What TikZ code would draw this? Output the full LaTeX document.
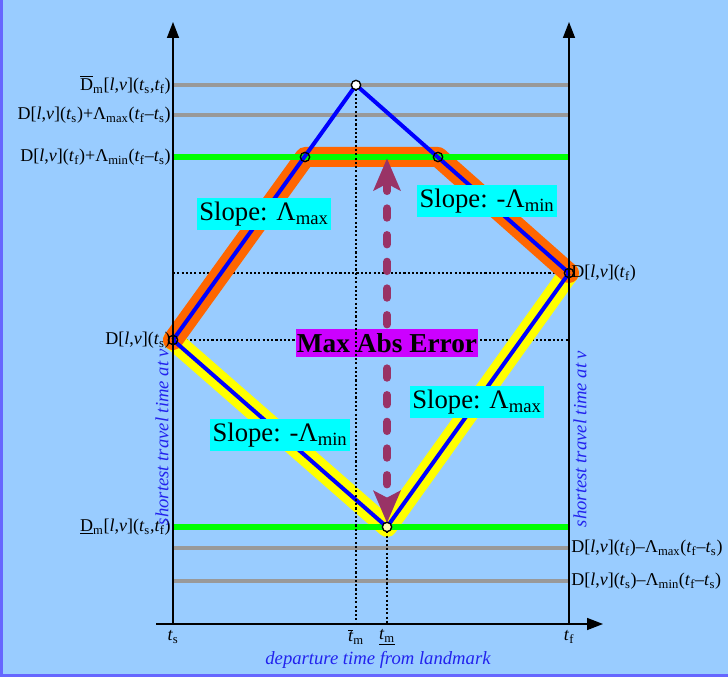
\documentclass[tikz,border=0pt]{standalone}
\usepackage{fontspec}
\setmainfont{Liberation Serif}
\usetikzlibrary{arrows.meta}
\definecolor{bgblue}{HTML}{99CCFF}
\definecolor{frameblue}{HTML}{6666FF}
\definecolor{upband}{HTML}{FF6600}
\definecolor{lowband}{HTML}{FFFF00}
\definecolor{boundgreen}{HTML}{00FF00}
\definecolor{levelgray}{HTML}{999999}
\definecolor{pathblue}{HTML}{0000FF}
\definecolor{errred}{HTML}{993366}
\definecolor{slopecyan}{HTML}{00FFFF}
\definecolor{errmagenta}{HTML}{CC00FF}
\definecolor{axisblue}{HTML}{2222EE}
\newcommand{\lv}{[\textit{l},\textit{v}]}
\newcommand{\Dlv}{D\lv}
\newcommand{\tsub}[1]{\textit{t}\textsubscript{#1}}

\begin{document}
\begin{tikzpicture}[
  x=0.75pt, y=-0.75pt,
  font=\fontsize{13.5}{16}\selectfont,
  axis/.style={draw=black, line width=1.1pt, -{Triangle[length=12pt,width=9pt]}},
  guide/.style={draw=black, line width=1.2pt, dash pattern=on 1.6pt off 1.6pt},
  level/.style={draw=levelgray, line width=3pt},
  bound/.style={draw=boundgreen, line width=3.8pt},
  band/.style={line width=15pt, line join=round, line cap=round},
  path/.style={draw=pathblue, line width=3pt},
  errarrow/.style={draw=errred, line width=6pt, line cap=round,
                   dash pattern=on 7pt off 13pt,
                   {Stealth[length=24pt,width=20pt,inset=5pt]}-{Stealth[length=24pt,width=20pt,inset=5pt]}},
  slope/.style={fill=slopecyan, inner xsep=2pt, inner ysep=3pt, font=\fontsize{20}{24}\selectfont},
  errbox/.style={fill=errmagenta, inner xsep=1pt, inner ysep=3pt, font=\fontsize{20.5}{24}\selectfont\bfseries},
  vertex/.style={circle, draw=black, line width=1pt, minimum size=7pt, inner sep=0pt},
  lbl/.style={inner sep=1.5pt},
  tick/.style={inner sep=0.5pt},
  axlabel/.style={text=axisblue, inner sep=1pt, font=\fontsize{14}{16}\selectfont\itshape}
]
\useasboundingbox (0,0) rectangle (728,677);
\fill[bgblue] (0,0) rectangle (728,677);
\draw[frameblue, line width=2.5pt] (1.5,0) -- (1.5,675.5) -- (728,675.5);

% key points of the two envelopes
\coordinate (ps) at (173,340);
\coordinate (pf) at (569,273);
\coordinate (apex) at (356,85);
\coordinate (low) at (387,527);
\coordinate (kl) at (305,157);
\coordinate (kr) at (438,157);

% axes ends
\coordinate (o) at (173,624);
\coordinate (ltop) at (173,22);
\coordinate (rbot) at (569,624);
\coordinate (rtop) at (569,22);
\coordinate (xs) at (156,624);
\coordinate (xe) at (603,624);

% levels with no vertex on them
\coordinate (lvmax) at (173,115);
\coordinate (lvlo1) at (173,548);
\coordinate (lvlo2) at (173,581);

% Layer 1 -- guides and bounds
\draw[guide] (ps) -- (ps -| rbot);
\draw[guide] (o |- pf) -- (pf);
\draw[level] (o |- apex) -- (rbot |- apex);
\draw[level] (lvmax) -- (lvmax -| rbot);
\draw[level] (lvlo1) -- (lvlo1 -| rbot);
\draw[level] (lvlo2) -- (lvlo2 -| rbot);

% Layer 2 -- the two envelopes
\draw[band, draw=lowband] (ps) -- (low) -- (pf);
\draw[band, draw=upband] (ps) -- (kl) -- (kr) -- (pf);
\draw[bound] (o |- kl) -- (rbot |- kl);
\draw[bound] (o |- low) -- (rbot |- low);
\draw[path] (ps) -- (apex) -- (pf);
\draw[path] (ps) -- (low) -- (pf);

% Layer 3 -- error arrow and labels on it
\draw[errarrow, shorten <=1pt, shorten >=3pt] (low |- kl) -- (low);
\node[slope] (smaxu) at (264,214) {Slope: Λ\textsubscript{max}};
\node[slope] (sminu) at (487,201) {Slope: -Λ\textsubscript{min}};
\node[slope] (sminl) at (280,435) {Slope: -Λ\textsubscript{min}};
\node[slope] (smaxl) at (477,402) {Slope: Λ\textsubscript{max}};
\node[errbox] (err) at (387,343) {Max Abs Error};
\draw[guide] (apex) -- (o -| apex);
\draw[guide] (low) -- (o -| low);

% Layer 4 -- axes and vertices
\draw[axis] (o) -- (ltop);
\draw[axis] (rbot) -- (rtop);
\draw[axis] (xs) -- (xe);
\node[vertex, fill=white] (vapex) at (apex) {};
\node[vertex, fill=yellow!30] (vlow) at (low) {};
\node[vertex] (vs) at (ps) {};
\node[vertex] (vf) at (pf) {};
\node[vertex] (vkl) at (kl) {};
\node[vertex] (vkr) at (kr) {};

% Row labels
\node[lbl, anchor=east] (ldmax) at (o |- apex) {$\overline{\mbox{D}}$\textsubscript{m}\lv(\tsub{s},\tsub{f})};
\node[lbl, anchor=east] (llmax) at (lvmax) {\Dlv(\tsub{s})+Λ\textsubscript{max}(\tsub{f}--\tsub{s})};
\node[lbl, anchor=east] (llmin) at (o |- kl) {\Dlv(\tsub{f})+Λ\textsubscript{min}(\tsub{f}--\tsub{s})};
\node[lbl, anchor=east] (lds) at (ps) {\Dlv(\tsub{s})};
\node[lbl, anchor=east] (ldmin) at (o |- low) {\underline{D}\textsubscript{m}\lv(\tsub{s},\tsub{f})};
\node[lbl, anchor=west] (ldf) at (pf) {\Dlv(\tsub{f})};
\node[lbl, anchor=west] (rlmax) at (lvlo1 -| rbot) {\Dlv(\tsub{f})--Λ\textsubscript{max}(\tsub{f}--\tsub{s})};
\node[lbl, anchor=west] (rlmin) at (lvlo2 -| rbot) {\Dlv(\tsub{s})--Λ\textsubscript{min}(\tsub{f}--\tsub{s})};

% Axis labels
\node[tick] (xts) at (173,637) {\tsub{s}};
\node[tick] (xtmo) at (356,637) {$\overline{\mbox{\textit{t}}}$\textsubscript{m}};
\node[tick] (xtmu) at (387,637) {\underline{\tsub{m}}};
\node[tick] (xtf) at (569,637) {\tsub{f}};
\node[axlabel] (xname) at (378,660) {departure time from landmark};
\node[axlabel, rotate=90] (yname) at (162,437) {shortest travel time at \textit{v}};
\node[axlabel, rotate=90] (yname2) at (580,439) {shortest travel time at \textit{v}};

\end{tikzpicture}
\end{document}
